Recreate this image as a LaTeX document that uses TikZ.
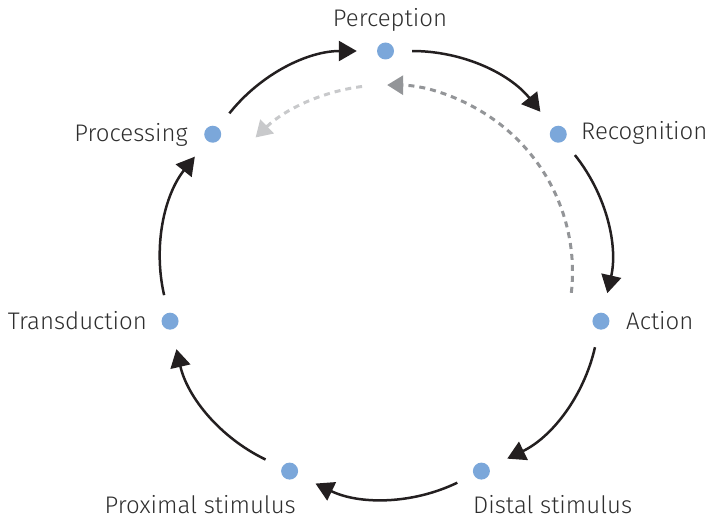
\documentclass[tikz,border=0pt]{standalone}
\usepackage{fontspec}
\setmainfont{Fira Sans}[UprightFont=* Light]
\usetikzlibrary{arrows.meta,calc}
\definecolor{dotblue}{HTML}{7BA7DA}
\definecolor{arrowblack}{HTML}{231F20}
\definecolor{dashdark}{HTML}{939598}
\definecolor{dashlight}{HTML}{C8C9CB}
\definecolor{labelgray}{HTML}{2E2E2E}
\begin{document}
\begin{tikzpicture}[x=1pt,y=1pt,
  dot/.style={circle,fill=dotblue,inner sep=0pt,minimum size=17pt},
  lab/.style={font=\fontsize{24}{28}\selectfont,text=labelgray,inner sep=0pt},
  cyc/.style={draw=arrowblack,line width=2.5pt,-{Triangle[length=18pt,width=20pt]},
    bend left=25.7,shorten <=18pt,shorten >=20pt},
  dashdk/.style={draw=dashdark,line width=3pt,dash pattern=on 6pt off 5pt,
    -{Triangle[length=16pt,width=19pt]}},
  dashlt/.style={draw=dashlight,line width=3pt,dash pattern=on 6pt off 5pt,
    -{Triangle[length=16pt,width=19pt]}}]
\useasboundingbox (0,0) rectangle (709,-519);
\coordinate (C) at (385.5,-272);
\node[dot] (per) at ($(C)+(90:221)$) {};
\node[dot] (rec) at ($(C)+(38.571:221)$) {};
\node[dot] (act) at ($(C)+(-12.857:221)$) {};
\node[dot] (dis) at ($(C)+(-64.286:221)$) {};
\node[dot] (pro) at ($(C)+(-115.714:221)$) {};
\node[dot] (tra) at ($(C)+(-167.143:221)$) {};
\node[dot] (prc) at ($(C)+(141.429:221)$) {};
% labels
\node[lab,anchor=base] (lper) at (390,-26.7) {Perception};
\node[lab,anchor=base west] (lrec) at (581,-139.5) {Recognition};
\node[lab,anchor=base west] (lact) at (626,-329) {Action};
\node[lab,anchor=base west] (ldis) at (473,-513.5) {Distal stimulus};
\node[lab,anchor=base east] (lpro) at (296,-513.5) {Proximal stimulus};
\node[lab,anchor=base east] (ltra) at (147,-329) {Transduction};
\node[lab,anchor=base east] (lprc) at (188,-141) {Processing};
% cycle arrows
\draw[cyc] (per) to (rec);
\draw[cyc] (rec) to (act);
\draw[cyc] (act) to (dis);
\draw[cyc] (dis) to (pro);
\draw[cyc] (pro) to (tra);
\draw[cyc] (tra) to (prc);
\draw[cyc] (prc) to (per);
% dashed feedback arcs
\draw[dashdk] ($(C)+(-6.4:187)$) arc[start angle=-6.4,end angle=89.5,radius=187];
\draw[dashlt] ($(C)+(97.2:187)$) arc[start angle=97.2,end angle=134,radius=187];
\end{tikzpicture}
\end{document}
